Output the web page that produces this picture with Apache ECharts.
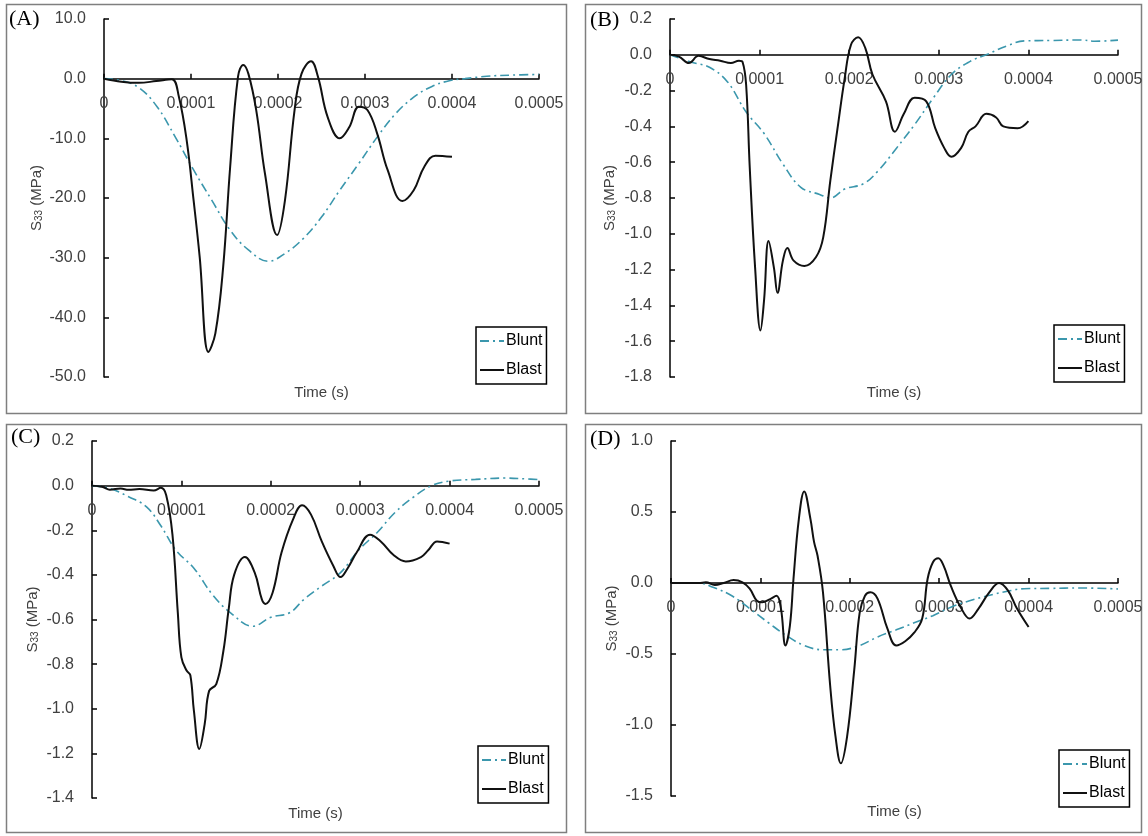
<!DOCTYPE html>
<html>
<head>
<meta charset="utf-8">
<title>S33 stress history: Blunt vs Blast</title>
<script src="https://cdn.jsdelivr.net/npm/echarts@6/dist/echarts.min.js"></script>
<style>
  html, body { margin: 0; padding: 0; background: #fff; }
  #chart { width: 1148px; height: 836px; }
</style>
</head>
<body>
<div id="chart"></div>
<script>
// Time stamps in microseconds, stresses in MPa.

// Panel (A)
const blastA_t = [0, 20, 40, 60, 78, 86, 95, 103, 110, 120, 128, 137, 145, 154, 160, 166, 175, 185, 199, 208, 219, 227, 238, 246, 257, 271, 282, 293, 303, 314, 326, 343, 356, 368, 381, 400];
const blastA_v = [0, -0.5, -0.7, -0.4, -0.1, -3, -10.3, -20.4, -29.9, -45.8, -42.7, -31.5, -14.8, 0.3, 2.3, 0.8, -5.3, -15.9, -26.2, -20.4, -5.3, 0.8, 2.9, 0.3, -6.4, -10.0, -8.1, -4.7, -5.3, -9.2, -15.3, -20.5, -18.7, -14.8, -12.9, -13.1];
const bluntA_t = [0, 19, 40, 61, 82, 103, 124, 145, 166, 189, 208, 229, 250, 271, 293, 314, 335, 356, 377, 398, 415, 440, 469, 500];
const bluntA_v = [0, -0.3, -1.5, -4.7, -9.8, -15.3, -20.4, -25.4, -28.7, -30.6, -29.3, -26.8, -23.2, -18.7, -14.2, -9.8, -5.9, -3.1, -1.3, -0.3, 0, 0.4, 0.6, 0.7];

// Panel (B)
const blastB_t = [0, 10, 21, 32, 44, 56, 68, 77, 81, 85, 89, 95, 101, 105, 110, 116, 120, 126, 131, 138, 150, 163, 171, 179, 187, 195, 202, 210, 218, 226, 241, 251, 261, 273, 286, 296, 306, 314, 325, 333, 341, 353, 364, 372, 388, 400];
const blastB_v = [0, -0.01, -0.046, -0.006, -0.024, -0.033, -0.046, -0.033, -0.04, -0.17, -0.63, -1.19, -1.54, -1.37, -1.04, -1.19, -1.33, -1.15, -1.08, -1.15, -1.18, -1.13, -1.02, -0.70, -0.41, -0.13, 0.056, 0.098, 0.037, -0.11, -0.26, -0.43, -0.33, -0.24, -0.26, -0.41, -0.52, -0.57, -0.52, -0.43, -0.40, -0.33, -0.35, -0.40, -0.41, -0.37];
const bluntB_t = [0, 23, 44, 64, 85, 105, 126, 146, 167, 179, 195, 216, 232, 253, 273, 294, 314, 335, 353, 376, 396, 425, 458, 474, 500];
const bluntB_v = [0, -0.04, -0.07, -0.15, -0.32, -0.44, -0.61, -0.74, -0.78, -0.80, -0.75, -0.72, -0.65, -0.52, -0.39, -0.24, -0.11, -0.037, 0, 0.05, 0.078, 0.08, 0.083, 0.076, 0.082];

// Panel (C)
const blastC_t = [0, 12, 20, 32, 41, 53, 69, 77, 83, 90, 96, 100, 106, 110, 114, 120, 126, 131, 139, 147, 153, 159, 171, 182, 190, 194, 202, 212, 225, 235, 245, 257, 270, 278, 286, 296, 311, 323, 337, 351, 368, 376, 386, 400];
const blastC_v = [0, -0.006, -0.018, -0.013, -0.019, -0.015, -0.022, -0.01, -0.043, -0.22, -0.57, -0.77, -0.83, -0.85, -1.01, -1.18, -1.07, -0.92, -0.89, -0.74, -0.55, -0.40, -0.32, -0.39, -0.51, -0.53, -0.48, -0.30, -0.15, -0.088, -0.13, -0.25, -0.36, -0.41, -0.37, -0.30, -0.22, -0.25, -0.31, -0.34, -0.32, -0.29, -0.25, -0.26];
const bluntC_t = [0, 20, 41, 61, 77, 94, 114, 135, 155, 180, 200, 221, 237, 257, 278, 298, 319, 339, 360, 380, 399, 429, 462, 486, 500];
const bluntC_v = [0, -0.013, -0.05, -0.095, -0.18, -0.29, -0.37, -0.49, -0.57, -0.63, -0.59, -0.57, -0.51, -0.45, -0.39, -0.29, -0.21, -0.12, -0.05, 0, 0.02, 0.028, 0.034, 0.03, 0.027];

// Panel (D)
const blastD_t = [0, 31, 39, 49, 59, 70, 80, 88, 96, 102, 111, 118, 123, 128, 133, 137, 143, 149, 156, 160, 164, 170, 178, 184, 190, 197, 205, 211, 217, 223, 231, 242, 252, 262, 272, 281, 287, 293, 299, 305, 313, 324, 334, 344, 356, 367, 377, 387, 400];
const blastD_v = [0, 0, 0.005, -0.014, 0, 0.021, 0.005, -0.04, -0.125, -0.136, -0.113, -0.09, -0.18, -0.44, -0.30, 0.028, 0.45, 0.645, 0.45, 0.29, 0.19, -0.066, -0.72, -1.08, -1.27, -1.08, -0.61, -0.21, -0.09, -0.066, -0.11, -0.32, -0.44, -0.41, -0.35, -0.25, 0.028, 0.146, 0.174, 0.12, -0.02, -0.17, -0.25, -0.18, -0.066, 0, -0.054, -0.18, -0.31];
const bluntD_t = [0, 31, 47, 68, 88, 109, 129, 149, 170, 190, 211, 231, 252, 272, 293, 313, 334, 354, 375, 395, 424, 457, 500];
const bluntD_v = [0, 0, -0.03, -0.09, -0.18, -0.28, -0.37, -0.44, -0.47, -0.47, -0.44, -0.38, -0.33, -0.28, -0.23, -0.17, -0.125, -0.09, -0.06, -0.04, -0.038, -0.035, -0.042];

// Axis ranges
const panelLabels = ['(A)', '(B)', '(C)', '(D)'];
const seriesNames = ['Blunt', 'Blast'];
const timeRange = [0, 0.0005, 0.0001];
const stressRanges = [
  [-50, 10, 10],
  [-1.8, 0.2, 0.2],
  [-1.4, 0.2, 0.2],
  [-1.5, 1.0, 0.5]
];

const FONT = 'Arial, "Liberation Sans", sans-serif';
const SERIF = '"Times New Roman", "Liberation Serif", serif';
const TICK_COLOR = '#404040';
const BLUNT_COLOR = '#3b97ad';
const BLAST_COLOR = '#111111';

const pairs = (ts, vs) => ts.map((t, i) => [t * 1e-6, vs[i]]);

const panelData = [
  { blunt: pairs(bluntA_t, bluntA_v), blast: pairs(blastA_t, blastA_v) },
  { blunt: pairs(bluntB_t, bluntB_v), blast: pairs(blastB_t, blastB_v) },
  { blunt: pairs(bluntC_t, bluntC_v), blast: pairs(blastC_t, blastC_v) },
  { blunt: pairs(bluntD_t, bluntD_v), blast: pairs(blastD_t, blastD_v) }
];

// Layout of the four panels (pixels)
const layout = [
  { grid: { left: 104, top: 19, width: 435, height: 358 }, box: [6.5, 4.5, 560, 409], nameGap: 60, legend: { left: 476, top: 327 }, tag: [9, 8] },
  { grid: { left: 670, top: 19, width: 448, height: 358 }, box: [585.5, 4.5, 556, 409], nameGap: 53, legend: { left: 1054, top: 325 }, tag: [590, 9] },
  { grid: { left: 92, top: 441, width: 447, height: 357 }, box: [6.5, 424.5, 560, 408], nameGap: 52, legend: { left: 478, top: 746 }, tag: [11, 426] },
  { grid: { left: 671, top: 441, width: 447, height: 355 }, box: [585.5, 424.5, 556, 408], nameGap: 52, legend: { left: 1059, top: 750 }, tag: [590, 428] }
];

const grids = [], xAxes = [], yAxes = [], series = [], legends = [], graphics = [];

layout.forEach((L, i) => {
  grids.push(Object.assign({ containLabel: false }, L.grid));

  const r = stressRanges[i];
  // lift the time axis (line, ticks and labels) up to the zero-stress level
  const zeroLift = L.grid.height * (0 - r[0]) / (r[1] - r[0]);

  xAxes.push({
    type: 'value', gridIndex: i, position: 'bottom', offset: -zeroLift,
    min: timeRange[0], max: timeRange[1], interval: timeRange[2],
    axisLine: { onZero: false, lineStyle: { color: '#000', width: 1.5 } },
    axisTick: { inside: true, length: 5, lineStyle: { color: '#000', width: 1.5 } },
    axisLabel: {
      margin: 17, color: TICK_COLOR, fontSize: 16, fontFamily: FONT,
      formatter: v => (v === 0 ? '0' : v.toFixed(4))
    },
    splitLine: { show: false }
  });

  yAxes.push({
    type: 'value', gridIndex: i,
    min: r[0], max: r[1], interval: r[2],
    name: '{s|S}{sub|33}{s| (MPa)}',
    nameLocation: 'middle', nameGap: L.nameGap,
    nameTextStyle: {
      color: TICK_COLOR, fontFamily: FONT,
      rich: {
        s: { fontSize: 15, fontFamily: FONT, color: TICK_COLOR, verticalAlign: 'bottom', lineHeight: 18 },
        sub: { fontSize: 10, fontFamily: FONT, color: TICK_COLOR, verticalAlign: 'bottom', lineHeight: 12 }
      }
    },
    axisLine: { show: true, onZero: false, lineStyle: { color: '#000', width: 1.5 } },
    axisTick: { show: true, inside: true, length: 5, lineStyle: { color: '#000', width: 1.5 } },
    axisLabel: {
      margin: 18, color: TICK_COLOR, fontSize: 16, fontFamily: FONT,
      formatter: v => v.toFixed(1)
    },
    splitLine: { show: false }
  });

  series.push({
    name: seriesNames[0], type: 'line', xAxisIndex: i, yAxisIndex: i,
    data: panelData[i].blunt, symbol: 'none', smooth: 0.4,
    lineStyle: { color: BLUNT_COLOR, width: 1.6, type: [9, 4, 2, 4] },
    itemStyle: { color: BLUNT_COLOR }, z: 2
  });
  series.push({
    name: seriesNames[1], type: 'line', xAxisIndex: i, yAxisIndex: i,
    data: panelData[i].blast, symbol: 'none', smooth: 0.4,
    lineStyle: { color: BLAST_COLOR, width: 2 },
    itemStyle: { color: BLAST_COLOR }, z: 3
  });

  legends.push({
    left: L.legend.left, top: L.legend.top,
    orient: 'vertical', data: seriesNames,
    itemWidth: 24, itemHeight: 14, itemGap: 13,
    padding: [6, 4, 6, 3],
    borderColor: '#000', borderWidth: 1.5,
    itemStyle: { opacity: 0 },
    textStyle: { color: '#000', fontSize: 16, fontFamily: FONT, padding: [0, 0, 0, -3] },
    selectedMode: false
  });

  // panel frame
  graphics.push({
    type: 'rect', silent: true, z: -1,
    shape: { x: L.box[0], y: L.box[1], width: L.box[2], height: L.box[3] },
    style: { fill: 'none', stroke: '#7f7f7f', lineWidth: 1.5 }
  });
  // panel tag
  graphics.push({
    type: 'text', silent: true, left: L.tag[0], top: L.tag[1],
    style: { text: panelLabels[i], font: '22px ' + SERIF, fill: '#000' }
  });
  // time axis title below the plot area
  graphics.push({
    type: 'text', silent: true,
    x: L.grid.left + L.grid.width / 2, y: L.grid.top + L.grid.height + 16,
    style: { text: 'Time (s)', font: '15px ' + FONT, fill: TICK_COLOR, textAlign: 'center', textVerticalAlign: 'middle' }
  });
});

const chart = echarts.init(document.getElementById('chart'), null, { renderer: 'canvas' });
chart.setOption({
  backgroundColor: '#fff',
  animation: false,
  grid: grids,
  xAxis: xAxes,
  yAxis: yAxes,
  legend: legends,
  series: series,
  graphic: graphics
});
</script>
</body>
</html>
